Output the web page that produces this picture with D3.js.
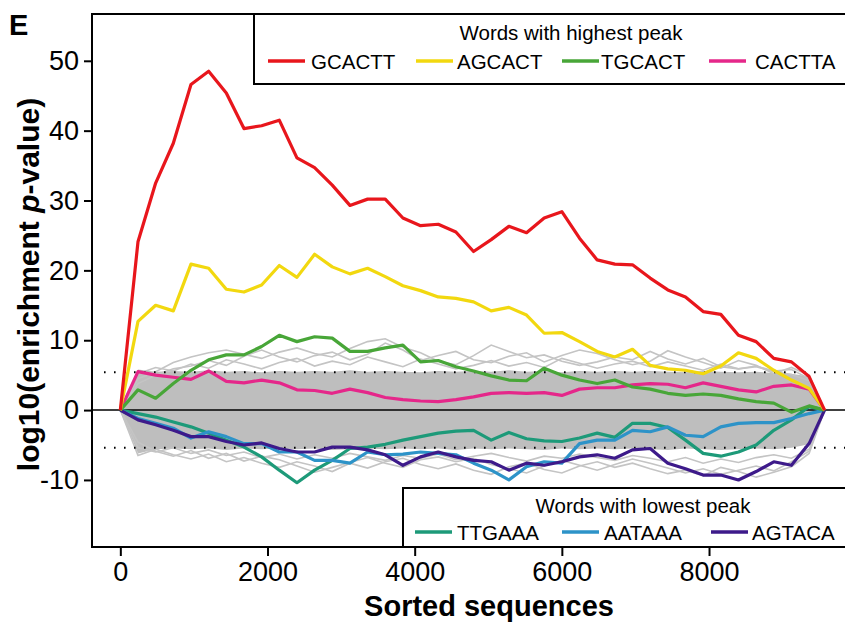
<!DOCTYPE html>
<html>
<head>
<meta charset="utf-8">
<script src="https://cdn.jsdelivr.net/npm/d3@7/dist/d3.min.js"></script>
<style>
  html, body { margin: 0; padding: 0; background: #fff; }
  svg { display: block; }
  text { font-family: "Liberation Sans", Arial, sans-serif; fill: #000; }
</style>
</head>
<body>
<svg id="chart" width="845" height="624"></svg>
<script>
// ---------------- DATA ----------------
const sortedSeq = [0,240,480,720,960,1200,1440,1680,1920,2160,2400,2640,2880,3120,3360,3600,3840,4080,4320,4560,4800,5040,5280,5520,5760,6000,6240,6480,6720,6960,7200,7440,7680,7920,8160,8400,8640,8880,9120,9360,9570];

const gcactt = [0,24.1,32.5,38.2,46.6,48.5,45.4,40.3,40.7,41.5,36.1,34.7,32.2,29.3,30.2,30.2,27.5,26.4,26.6,25.5,22.7,24.4,26.3,25.4,27.5,28.4,24.6,21.5,20.9,20.8,18.9,17.2,16.2,14.1,13.7,10.7,9.8,7.4,6.9,4.8,0];
const agcact = [0,12.7,15.0,14.2,20.9,20.3,17.3,16.9,17.9,20.7,19.0,22.3,20.5,19.5,20.3,19.1,17.8,17.1,16.2,16.0,15.5,14.2,14.7,13.6,11.0,11.1,9.8,8.4,7.6,8.7,6.4,5.9,5.7,5.2,6.3,8.2,7.4,5.7,4.3,3.1,0];
const tgcact = [0,2.9,1.7,3.8,5.7,7.2,7.9,7.9,9.1,10.7,9.8,10.5,10.3,8.4,8.4,8.9,9.3,6.9,7.1,6.2,5.6,4.9,4.3,4.2,6.0,5.0,4.3,3.8,4.3,3.3,3.0,2.4,2.1,2.3,2.1,1.6,1.2,1.0,-0.3,0.6,0];
const cactta = [0,5.5,5.0,4.7,4.4,5.6,4.1,3.9,4.3,3.9,2.9,2.8,2.4,3.0,2.5,1.8,1.5,1.3,1.2,1.5,1.9,2.4,2.5,2.4,2.5,2.1,3.0,3.2,3.2,3.6,3.8,3.7,3.2,3.9,3.4,2.9,2.6,3.4,3.6,3.0,0];

const ttgaaa = [0,-0.5,-1.0,-1.7,-2.4,-3.3,-4.3,-5.3,-6.7,-8.6,-10.4,-8.6,-7.2,-5.5,-5.3,-4.9,-4.3,-3.8,-3.3,-3.0,-2.9,-4.3,-3.2,-4.1,-4.4,-4.5,-4.0,-3.3,-3.9,-1.9,-1.9,-2.5,-4.3,-6.2,-6.6,-6.0,-5.0,-2.9,-1.4,0.5,0];
const aataaa = [0,-1.2,-1.9,-2.6,-4.0,-3.1,-3.8,-4.8,-4.8,-6.0,-6.0,-7.2,-7.2,-7.6,-6.0,-6.4,-6.3,-6.0,-6.2,-6.4,-7.6,-8.6,-10.0,-8.1,-7.4,-7.6,-4.8,-4.3,-4.3,-2.9,-3.1,-2.4,-3.6,-3.8,-2.4,-1.9,-1.8,-1.8,-1.2,-0.5,0];
const agtaca = [0,-1.4,-2.1,-2.9,-3.8,-3.8,-4.5,-5.0,-4.7,-5.5,-6.0,-6.0,-5.3,-5.3,-5.7,-6.4,-7.9,-6.7,-6.0,-6.7,-7.2,-7.4,-8.6,-7.6,-7.9,-7.4,-6.7,-6.4,-6.9,-5.7,-5.5,-7.6,-8.4,-9.3,-9.3,-10.0,-8.8,-7.4,-7.9,-4.8,0];

// background words: dense band envelope + a few visible outlying grey traces
const bandUpper = [0,5.8,5.5,5.6,5.5,5.7,5.5,5.6,5.4,5.6,5.5,5.6,5.5,5.7,5.5,5.6,5.5,5.4,5.6,5.5,5.6,5.5,5.7,5.5,5.6,5.4,5.6,5.5,5.6,5.5,5.6,5.5,5.4,5.6,5.5,5.4,5.5,5.3,5.2,4.8,0];
const bandLower = [0,-6.2,-5.6,-5.5,-5.6,-5.5,-5.7,-5.5,-5.6,-5.5,-5.6,-5.5,-5.7,-5.6,-5.5,-5.6,-5.5,-5.6,-5.5,-5.7,-5.5,-5.6,-5.5,-5.6,-5.7,-5.5,-5.6,-5.5,-5.6,-5.5,-5.6,-5.7,-5.5,-5.6,-5.7,-5.6,-5.5,-5.6,-5.4,-4.9,0];
const greyA = [0,4.5,5.5,6.8,7.6,8.2,8.6,8.0,7.4,8.3,8.9,8.1,7.6,8.8,9.8,10.2,9.0,8.2,7.0,6.5,7.8,9.3,8.4,7.5,7.9,7.0,6.4,6.9,7.6,7.2,8.4,7.3,6.6,7.4,6.2,5.9,6.3,5.6,5.8,4.5,0];
const greyB = [0,3.8,5.0,5.9,6.3,7.1,6.4,7.7,8.6,7.6,6.9,7.8,8.3,7.2,8.0,9.6,8.6,7.1,7.8,8.4,7.2,6.8,7.7,8.2,6.9,7.8,8.6,8.1,7.2,6.5,7.0,8.5,7.6,6.8,6.0,7.1,6.4,5.2,6.1,5.0,0];
const greyC = [0,5.2,6.1,5.6,6.6,6.0,7.2,6.6,5.9,6.8,7.4,6.3,7.0,6.5,7.6,6.9,6.2,7.3,6.6,5.9,6.4,7.1,6.3,6.8,6.1,7.4,6.7,6.0,6.6,7.0,6.2,6.9,6.3,5.7,6.6,5.9,6.2,5.5,5.1,4.2,0];
const greyD = [0,-6.5,-5.6,-6.4,-7.0,-6.3,-7.4,-6.8,-7.6,-8.2,-7.4,-8.0,-8.8,-7.6,-8.3,-7.4,-6.9,-7.8,-8.4,-7.7,-8.6,-9.2,-8.1,-7.6,-8.5,-9.0,-8.0,-7.4,-8.2,-7.6,-8.4,-9.1,-8.6,-9.4,-8.2,-8.8,-9.6,-8.9,-8.1,-6.2,0];
const greyE = [0,-4.6,-5.9,-6.6,-5.8,-6.9,-6.2,-7.3,-6.6,-7.1,-8.0,-8.9,-8.2,-7.5,-6.8,-7.6,-8.2,-7.1,-6.7,-7.4,-6.9,-7.8,-8.4,-9.0,-8.0,-7.2,-7.9,-8.6,-7.8,-7.0,-7.6,-8.3,-9.0,-8.4,-9.2,-8.6,-8.0,-8.7,-7.4,-5.9,0];
const greyF = [0,-5.4,-6.0,-5.4,-6.2,-5.7,-6.5,-6.0,-6.8,-6.3,-7.0,-6.4,-6.9,-6.2,-6.7,-7.2,-6.5,-6.9,-6.3,-7.1,-6.6,-6.2,-6.8,-7.3,-6.6,-6.9,-6.3,-6.8,-7.2,-6.5,-6.9,-7.4,-6.8,-7.6,-7.0,-7.5,-6.8,-6.4,-6.9,-5.6,0];

const thresholds = [5.4, -5.4];
const xTicks = [0, 2000, 4000, 6000, 8000];
const yTicks = [-10, 0, 10, 20, 30, 40, 50];

const highWords = ["GCACTT", "AGCACT", "TGCACT", "CACTTA"];
const highColors = ["#e8161c", "#f2d80f", "#48a638", "#e5278a"];
const lowWords = ["TTGAAA", "AATAAA", "AGTACA"];
const lowColors = ["#1d9a79", "#2d93c8", "#3d1a8a"];

// ---------------- DRAW ----------------
(function () {
const svg = d3.select("#chart");
const pL = 92, pR = 886, pT = 14, pB = 547;

const x = d3.scaleLinear().domain([-385, 10405]).range([pL, pR]);
const y = d3.scaleLinear().domain([-19.6, 56.7]).range([pB, pT]);

svg.append("defs").append("clipPath").attr("id", "clip")
  .append("rect").attr("x", pL).attr("y", pT).attr("width", pR - pL).attr("height", pB - pT);

const plot = svg.append("g").attr("clip-path", "url(#clip)");
const line = d3.line().x((d, i) => x(sortedSeq[i])).y(d => y(d));

// grey band
const area = d3.area().x((d, i) => x(sortedSeq[i])).y0((d, i) => y(bandLower[i])).y1(d => y(d));
plot.append("path").datum(bandUpper).attr("d", area).attr("fill", "#bebebe");

[greyA, greyB, greyC, greyD, greyE, greyF].forEach(s => {
  plot.append("path").datum(s).attr("d", line)
    .attr("fill", "none").attr("stroke", "#c4c4c4").attr("stroke-width", 1.6);
});

// zero line
plot.append("line").attr("x1", pL).attr("x2", pR).attr("y1", y(0)).attr("y2", y(0))
  .attr("stroke", "#000").attr("stroke-width", 1.5);
// threshold dotted lines
thresholds.forEach(t => {
  plot.append("line").attr("x1", pL + 12).attr("x2", pR).attr("y1", y(t)).attr("y2", y(t))
    .attr("stroke", "#000").attr("stroke-width", 2).attr("stroke-dasharray", "1.6,8.4");
});

// colored lines
const lowSeries = [ttgaaa, aataaa, agtaca];
const highSeries = [gcactt, agcact, tgcact, cactta];
lowSeries.forEach((s, k) => {
  plot.append("path").datum(s).attr("d", line).attr("fill", "none")
    .attr("stroke", lowColors[k]).attr("stroke-width", 3.2).attr("stroke-linejoin", "round");
});
highSeries.slice().reverse().forEach((s, k) => {
  const idx = highSeries.length - 1 - k;
  plot.append("path").datum(s).attr("d", line).attr("fill", "none")
    .attr("stroke", highColors[idx]).attr("stroke-width", 3.2).attr("stroke-linejoin", "round");
});

// box
svg.append("rect").attr("x", pL).attr("y", pT).attr("width", pR - pL).attr("height", pB - pT)
  .attr("fill", "none").attr("stroke", "#000").attr("stroke-width", 2);

// axes
const yAxis = d3.axisLeft(y).tickValues(yTicks).tickSize(8).tickPadding(5)
  .tickFormat(d => d < 0 ? "-" + Math.abs(d) : d);
const gy = svg.append("g").attr("transform", `translate(${pL},0)`).call(yAxis);
gy.select(".domain").remove();
gy.selectAll("line").attr("stroke", "#000").attr("stroke-width", 2);
gy.selectAll("text").attr("font-size", 27).attr("font-family", "Liberation Sans, Arial, sans-serif");

const xAxis = d3.axisBottom(x).tickValues(xTicks).tickSize(9).tickPadding(6).tickFormat(d3.format("d"));
const gx = svg.append("g").attr("transform", `translate(0,${pB})`).call(xAxis);
gx.select(".domain").remove();
gx.selectAll("line").attr("stroke", "#000").attr("stroke-width", 2);
gx.selectAll("text").attr("font-size", 27).attr("font-family", "Liberation Sans, Arial, sans-serif");

// axis titles
svg.append("text").attr("x", (pL + pR) / 2).attr("y", 616).attr("text-anchor", "middle")
  .attr("font-size", 29).attr("font-weight", "bold").text("Sorted sequences");

const yt = svg.append("text").attr("transform", `translate(39,${(pT + pB) / 2 + 4}) rotate(-90)`)
  .attr("text-anchor", "middle").attr("font-size", 30).attr("font-weight", "bold");
yt.append("tspan").text("log10(enrichment ");
yt.append("tspan").attr("font-style", "italic").text("p");
yt.append("tspan").text("-value)");

// panel letter
svg.append("text").attr("x", 9).attr("y", 35).attr("font-size", 29).attr("font-weight", "bold").text("E");

// legends
function legend(box, title, titleX, words, colors, lineXs, textXs, lineY, textY, titleY) {
  svg.append("rect").attr("x", box.x).attr("y", box.y).attr("width", box.w).attr("height", box.h)
    .attr("fill", "#fff").attr("stroke", "#000").attr("stroke-width", 2);
  svg.append("text").attr("x", titleX).attr("y", titleY).attr("text-anchor", "middle")
    .attr("font-size", 20.5).text(title);
  words.forEach((w, i) => {
    svg.append("line").attr("x1", lineXs[i]).attr("x2", lineXs[i] + 37).attr("y1", lineY).attr("y2", lineY)
      .attr("stroke", colors[i]).attr("stroke-width", 3.4);
    svg.append("text").attr("x", textXs[i]).attr("y", textY).attr("font-size", 20.5).text(w);
  });
}
legend({x: 254, y: 14, w: 640, h: 70}, "Words with highest peak", 571, highWords, highColors,
  [268, 416, 562, 709], [311, 457, 601, 755], 61, 68.5, 40);
legend({x: 403, y: 488, w: 500, h: 59}, "Words with lowest peak", 643, lowWords, lowColors,
  [415, 562, 711], [457, 604, 752], 532, 539.5, 513);
})();
</script>
</body>
</html>
